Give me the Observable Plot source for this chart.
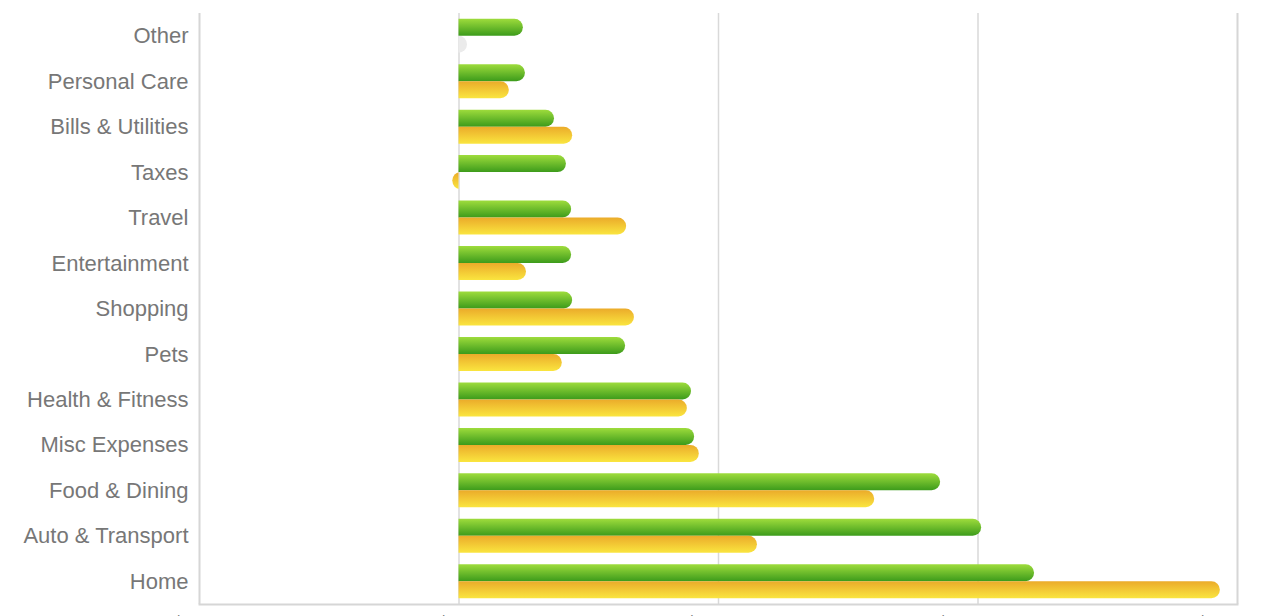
<!DOCTYPE html>
<html>
<head>
<meta charset="utf-8">
<script src="https://cdn.jsdelivr.net/npm/d3@7"></script>
<script src="https://cdn.jsdelivr.net/npm/@observablehq/plot@0.6"></script>
<style>
  html, body { margin: 0; padding: 0; background: #fff; overflow: hidden; }
</style>
</head>
<body>
<div id="chart"></div>
<script>
const categories = ["Other","Personal Care","Bills & Utilities","Taxes","Travel","Entertainment","Shopping","Pets","Health & Fitness","Misc Expenses","Food & Dining","Auto & Transport","Home"];
const thisPeriod = [124, 128, 184, 207, 217, 217, 219, 321, 448, 454, 928, 1007, 1109];
const lastPeriod = [0, 97, 219, -12, 323, 130, 338, 199, 440, 463, 801, 575, 1467];
const xTicks = [-500, 0, 500, 1000, 1500];
const gridTicks = [0, 500, 1000];
const frameTicks = [-500, 1500];

const rows = categories.flatMap((c, i) => [
  {category: c, series: "This Period", value: thisPeriod[i]},
  {category: c, series: "Last Period", value: lastPeriod[i]}
]);

const top0 = 13, bot0 = 604;
const bw = (bot0 - top0) / categories.length;
const barH = 17;
const upper = {insetTop: bw / 2 - barH, insetBottom: bw / 2};
const lower = {insetTop: bw / 2, insetBottom: bw / 2 - barH};
const sel = (s, f) => rows.filter(d => d.series === s && f(d.value));
const R = 8.5;
const FS = 22;
const textColor = "#777777";

const chart = Plot.plot({
  width: 1262,
  height: 640,
  marginLeft: 199,
  marginRight: 25,
  marginTop: top0,
  marginBottom: 640 - bot0,
  style: {fontFamily: "'Liberation Sans', Arial, Helvetica, sans-serif", fontSize: FS + "px", color: textColor, background: "#fff"},
  x: {domain: [-500, 1500], ticks: xTicks, tickFormat: d3.format("$,")},
  y: {domain: categories, padding: 0, round: false},
  marks: [
    Plot.ruleX(gridTicks, {stroke: "#d9d9d9", strokeWidth: 1.5}),
    Plot.ruleX(frameTicks, {stroke: "#d6d6d6", strokeWidth: 2}),
    Plot.frame({anchor: "bottom", stroke: "#d6d6d6", strokeWidth: 2}),
    Plot.barX(sel("This Period", v => v > 0), {y: "category", x1: 0, x2: "value", insetLeft: -10, rx: R, fill: "url(#grad-green)", ariaDescription: "clip-right", ...upper}),
    Plot.barX(sel("Last Period", v => v > 0), {y: "category", x1: 0, x2: "value", insetLeft: -10, rx: R, fill: "url(#grad-yellow)", ariaDescription: "clip-right", ...lower}),
    Plot.barX(sel("Last Period", v => v < 0), {y: "category", x1: "value", x2: 0, insetRight: -10, rx: R, fill: "url(#grad-yellow)", ariaDescription: "clip-left", ...lower}),
    Plot.barX(sel("Last Period", v => v === 0), {y: "category", x1: 0, x2: 0, insetLeft: -R, insetRight: -R, rx: R, fill: "#ebebeb", ariaDescription: "clip-right", ...lower}),
    Plot.axisY({tickSize: 0, tickPadding: 11, fontSize: FS, fill: textColor, label: null}),
    Plot.axisX({ticks: xTicks, tickFormat: d3.format("$,"), tickSize: 0, tickPadding: 11, dx: -10, fontSize: 20, fill: textColor, label: null})
  ]
});

const svg = d3.select(chart);
const defs = svg.insert("defs", ":first-child");
function grad(id, top, bottom) {
  const g = defs.append("linearGradient").attr("id", id).attr("x1", 0).attr("y1", 0).attr("x2", 0).attr("y2", 1);
  g.append("stop").attr("offset", "0%").attr("stop-color", top);
  g.append("stop").attr("offset", "100%").attr("stop-color", bottom);
}
grad("grad-green", "#9edc3c", "#3c9b1b");
grad("grad-yellow", "#ebab2a", "#fae53f");

const x0 = chart.scale("x").apply(0);
defs.append("clipPath").attr("id", "cp-right").attr("clipPathUnits", "userSpaceOnUse")
  .append("rect").attr("x", x0).attr("y", 0).attr("width", 3000).attr("height", 3000);
defs.append("clipPath").attr("id", "cp-left").attr("clipPathUnits", "userSpaceOnUse")
  .append("rect").attr("x", x0 - 3000).attr("y", 0).attr("width", 3000).attr("height", 3000);
svg.selectAll('g[aria-description="clip-right"]').attr("clip-path", "url(#cp-right)");
svg.selectAll('g[aria-description="clip-left"]').attr("clip-path", "url(#cp-left)");

document.getElementById("chart").appendChild(chart);
</script>
</body>
</html>
